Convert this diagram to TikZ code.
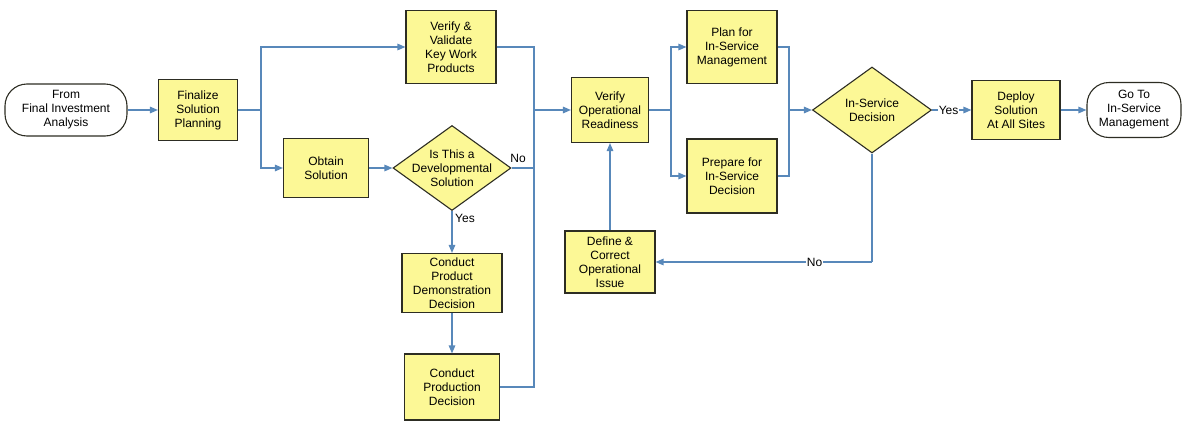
\documentclass[tikz,border=0pt]{standalone}
\usepackage{fontspec}
\setmainfont{Liberation Sans}
\usetikzlibrary{shapes.geometric,arrows.meta,calc}
\definecolor{boxfill}{RGB}{252,248,150}
\definecolor{boxline}{RGB}{45,45,35}
\definecolor{flow}{RGB}{88,136,186}
\begin{document}
\begin{tikzpicture}[x=1pt,y=-1pt,
  every node/.style={font=\fontsize{12}{14}\selectfont, align=center, inner sep=0pt},
  procbox/.style={draw=boxline, line width=1.1pt, fill=boxfill, rectangle},
  termbox/.style={draw=boxline, line width=1.1pt, fill=white, rectangle, rounded corners=22pt},
  decbox/.style={draw=boxline, line width=1.1pt, fill=boxfill, diamond},
  conn/.style={draw=flow, line width=1.3pt},
  arr/.style={conn, -{Triangle[length=8pt,width=6.5pt]}},
  lbl/.style={fill=white, inner sep=1pt}
]
\useasboundingbox (0,0) rectangle (1183,423);

% nodes
\node[termbox, minimum width=122pt, minimum height=52pt] (from) at (66,110) {From\\Final Investment\\Analysis};
\node[procbox, minimum width=79pt, minimum height=61pt] (fin) at (198,110) {Finalize\\Solution\\Planning};
\node[procbox, minimum width=90pt, minimum height=73pt] (vv) at (451,47) {Verify \&\\Validate\\Key Work\\Products};
\node[procbox, minimum width=85pt, minimum height=59pt] (obt) at (326,168) {Obtain\\Solution};
\node[decbox, minimum width=118pt, minimum height=85pt] (dev) at (452,168) {};
\node (devt) at (452,168) {Is This a\\Developmental\\Solution};
\node[procbox, minimum width=100pt, minimum height=59pt] (demo) at (452,283) {Conduct\\Product\\Demonstration\\Decision};
\node[procbox, minimum width=95pt, minimum height=66pt] (prod) at (452,387) {Conduct\\Production\\Decision};
\node[procbox, minimum width=77pt, minimum height=65pt] (vop) at (610,110) {Verify\\Operational\\Readiness};
\node[procbox, minimum width=90pt, minimum height=73pt] (plan) at (732,47) {Plan for\\In-Service\\Management};
\node[procbox, minimum width=90pt, minimum height=74pt] (prep) at (732,176) {Prepare for\\In-Service\\Decision};
\node[procbox, minimum width=90pt, minimum height=62pt] (def) at (610,262) {Define \&\\Correct\\Operational\\Issue};
\node[decbox, minimum width=119pt, minimum height=86pt] (isd) at (872,110) {};
\node (isdt) at (872,110) {In-Service\\Decision};
\node[procbox, minimum width=88pt, minimum height=59pt] (dep) at (1016,110) {Deploy\\Solution\\At All Sites};
\node[termbox, minimum width=94pt, minimum height=55pt] (goto) at (1134,110) {Go To\\In-Service\\Management};

% junction coordinates
\coordinate (b1) at (261,110);
\coordinate (m1) at (534,110);
\coordinate (b2) at (671,110);
\coordinate (m2) at (789,110);
\coordinate (nc) at (isd.south |- def.east);

% connectors
\draw[arr] (from.east) -- (fin.west);
\draw[conn] (fin.east) -- (b1);
\draw[arr] (b1) |- (vv.west);
\draw[arr] (b1) |- (obt.west);
\draw[arr] (obt.east) -- (dev.west);
\draw[conn] (dev.east) -| (m1);
\node at (518,158) {No};
\draw[conn] (vv.east) -| (m1);
\draw[conn] (prod.east) -| (m1);
\draw[arr] (m1) -- (vop.west);
\draw[arr] (dev.south) -- (demo.north);
\node[anchor=west] at (455,218) {Yes};
\draw[arr] (demo.south) -- (prod.north);
\draw[conn] (vop.east) -- (b2);
\draw[arr] (b2) |- (plan.west);
\draw[arr] (b2) |- (prep.west);
\draw[conn] (plan.east) -| (m2);
\draw[conn] (prep.east) -| (m2);
\draw[arr] (m2) -- (isd.west);
\draw[arr] (isd.east) -- node[lbl, pos=0.42] {Yes} (dep.west);
\draw[arr] (dep.east) -- (goto.west);
\draw[conn] (isd.south) -- (nc);
\draw[arr] (nc) -- node[lbl, pos=0.265] {No} (def.east);
\draw[arr] (def.north) -- (vop.south);
\end{tikzpicture}
\end{document}
